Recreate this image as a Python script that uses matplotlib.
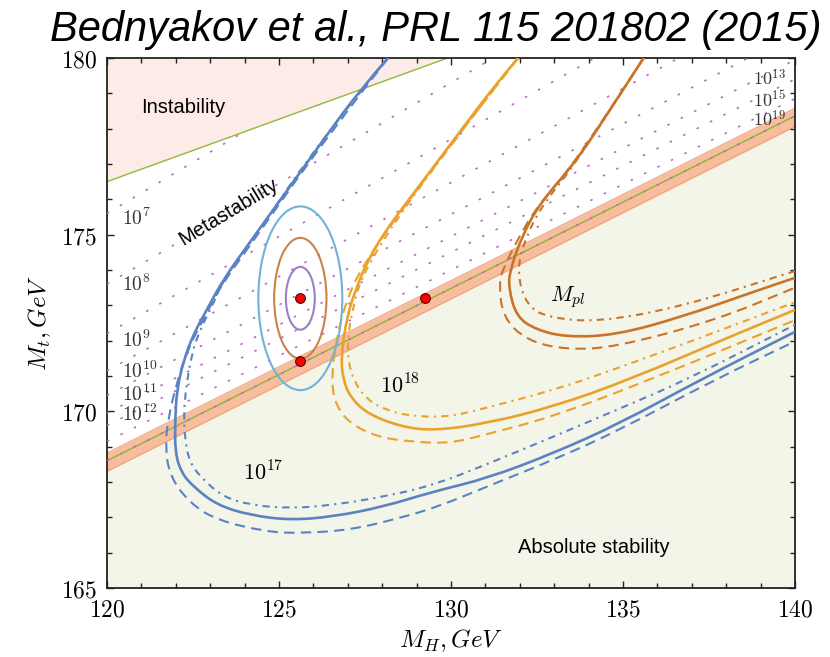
import matplotlib
matplotlib.use("Agg")
import matplotlib.pyplot as plt
import numpy as np
from matplotlib.patches import Ellipse, Polygon, PathPatch
from matplotlib.path import Path
from matplotlib.ticker import MultipleLocator, FuncFormatter

plt.rcParams["mathtext.fontset"] = "cm"

# instability boundary (lifetime = age of universe)
INST_MH = [120.0, 129.9]
INST_MT = [176.5, 180.0]

# absolute stability line and its uncertainty band
STAB_MH = [120.0, 140.0]
STAB_MT = [168.6, 178.36]
BAND_UP = 0.22
BAND_DN = 0.30

# dotted contours of the instability scale, Mt at MH=120 and MH=140
LAMBDA_EXP = [7, 8, 9, 10, 11, 12, 13, 15, 19]
LAMBDA_MT_120 = [175.6, 173.6, 172.2, 171.15, 170.45, 169.95, 169.6, 169.15, 168.6]
LAMBDA_MT_140 = [187.2, 185.0, 183.2, 181.8, 180.7, 179.95, 179.4, 178.85, 178.36]
LEFT_LABELS = {7: 175.47, 8: 173.58, 9: 172.0, 10: 171.14, 11: 170.47, 12: 169.9}
RIGHT_LABELS = {13: 179.4, 15: 178.8, 19: 178.25}

# blue curves (10^17)
blue_solid_mh = [128.17, 127.35, 126.3, 125.2, 124.2, 123.37, 122.9, 122.52, 122.23,
                 122.03, 121.98, 121.98, 122.17, 122.51, 123.19, 124.16, 125.32,
                 126.58, 128.03, 129.49, 131.04, 132.97, 134.91, 137.24, 140.0]
blue_solid_mt = [180.0, 179.09, 177.7, 176.2, 174.85, 173.72, 172.87, 172.2, 171.45,
                 170.6, 169.75, 168.82, 168.25, 167.87, 167.35, 167.06, 166.92,
                 167.02, 167.3, 167.73, 168.1, 168.81, 169.66, 170.89, 172.25]
blue_dash_mh = [128.17, 126.3, 124.2, 123.34, 122.9, 122.33, 122.0, 121.78, 121.69,
                121.83, 122.41, 123.19, 124.64, 125.61, 127.06, 128.52, 129.68,
                131.04, 132.97, 134.9, 137.65, 140.0]
blue_dash_mt = [180.0, 177.65, 174.75, 173.6, 172.78, 171.74, 170.7, 169.8, 169.0,
                168.15, 167.4, 166.92, 166.59, 166.55, 166.64, 166.98, 167.32,
                167.87, 168.62, 169.47, 170.89, 171.98]
blue_dd_mh = [128.17, 126.3, 124.3, 123.4, 123.14, 122.7, 122.47, 122.3, 122.23,
              122.27, 122.41, 122.8, 123.38, 124.16, 125.32, 126.58, 128.03, 129.49,
              131.04, 132.97, 134.91, 136.85, 140.0]
blue_dd_mt = [180.0, 177.8, 174.95, 173.75, 173.15, 172.3, 171.65, 170.7, 169.9,
              169.19, 168.53, 168.06, 167.58, 167.35, 167.25, 167.35, 167.58, 167.91,
              168.5, 169.28, 170.08, 170.89, 172.45]

# orange curves (10^18)
orange_solid_mh = [131.95, 131.34, 130.4, 129.48, 128.7, 128.02, 127.55, 127.27, 126.97,
                   126.8, 126.87, 127.06, 127.55, 128.52, 129.49, 131.04, 132.97,
                   135.2, 138.2, 140.0]
orange_solid_mt = [180.0, 179.3, 178.1, 176.9, 175.9, 175.0, 174.2, 173.55, 172.68,
                   171.5, 170.89, 170.42, 169.94, 169.57, 169.45, 169.66, 170.13,
                   170.9, 172.15, 172.87]
orange_dash_mh = [131.95, 129.4, 127.45, 126.9, 126.6, 126.53, 126.68, 127.06, 127.84,
                  128.81, 129.97, 131.04, 132.97, 135.78, 140.0]
orange_dash_mt = [180.0, 176.8, 174.19, 173.0, 171.7, 170.7, 170.13, 169.66, 169.28,
                  169.14, 169.09, 169.35, 169.85, 170.89, 172.58]
orange_dd_mh = [131.95, 129.5, 127.5, 127.1, 126.97, 127.12, 127.55, 128.23, 129.0,
                129.97, 131.04, 132.97, 134.5, 136.75, 140.0]
orange_dd_mt = [180.0, 176.95, 174.1, 172.8, 171.74, 170.95, 170.32, 169.99, 169.85,
                169.85, 170.1, 170.6, 171.1, 171.9, 173.09]

# dark orange curves (Planck scale)
pl_solid_mh = [135.6, 134.8, 133.66, 132.59, 132.05, 131.72, 131.67, 131.9, 132.5,
               133.37, 134.8, 136.7, 138.7, 140.0]
pl_solid_mt = [180.0, 178.8, 177.1, 175.9, 174.93, 174.0, 173.52, 172.67, 172.3,
               172.1, 172.16, 172.67, 173.35, 173.78]
pl_dash_mh = [135.6, 133.6, 132.5, 131.9, 131.5, 131.4, 131.5, 132.2, 133.37, 134.8,
              137.7, 140.0]
pl_dash_mt = [180.0, 177.0, 175.8, 174.8, 174.0, 173.63, 172.67, 172.0, 171.74,
              171.82, 172.58, 173.5]
pl_dd_mh = [135.6, 133.7, 132.7, 132.2, 131.9, 132.2, 132.9, 134.3, 136.7, 140.0]
pl_dd_mt = [180.0, 177.1, 175.9, 175.0, 174.0, 172.96, 172.64, 172.53, 172.96, 173.97]

# confidence ellipses around the central point
ELL_CENTER = (125.62, 173.2)
ELL_HALF_W = [1.22, 0.76, 0.42]
ELL_HALF_H = [2.6, 1.71, 0.89]
ELL_COLORS = ["#6fb3da", "#c98346", "#9a80c6"]

# red points
POINTS_MH = [125.62, 125.62, 129.25]
POINTS_MT = [173.2, 171.43, 173.2]

BLUE = "#5b82c3"
ORANGE = "#e9a22c"
DORANGE = "#c8742a"
DASH = (0, (5, 3))
DASHDOT = (0, (3.5, 2.5, 1, 2.5))


def smooth_path(mh, mt):
    # quadratic bezier through midpoints, read points act as control points
    pts = np.column_stack([mh, mt])
    verts = [pts[0]]
    codes = [Path.MOVETO]
    for i in range(1, len(pts) - 1):
        verts += [pts[i], (pts[i] + pts[i + 1]) / 2]
        codes += [Path.CURVE3, Path.CURVE3]
    verts.append(pts[-1])
    codes.append(Path.LINETO)
    return Path(verts, codes)


fig = plt.figure(figsize=(8.3, 6.57), dpi=100)
ax = fig.add_axes([107 / 830, 69 / 657, 688 / 830, 530 / 657])
ax.set_xlim(120, 140)
ax.set_ylim(165, 180)

# regions
xs = np.array(STAB_MH)
green = np.array(STAB_MT)
ax.fill_between(xs, 165, green - BAND_DN, color="#f3f5e8", lw=0, zorder=0)
ax.fill_between(xs, green - BAND_DN, green + BAND_UP, color="#f7bd9c", lw=0, zorder=1)
ax.plot(xs, green - BAND_DN, color="#eea27c", lw=0.8, zorder=1)
ax.plot(xs, green + BAND_UP, color="#eea27c", lw=0.8, zorder=1)
ax.plot(xs, green, color="#8db23e", lw=1.0, zorder=2)

inst = Polygon([(INST_MH[0], INST_MT[0]), (INST_MH[1], INST_MT[1]), (120, 180)],
               closed=True, facecolor="#fcebe6", edgecolor="none", zorder=0)
ax.add_patch(inst)
ax.plot(INST_MH, INST_MT, color="#94b540", lw=1.0, zorder=2)

# dotted Lambda contours, kept out of the instability region
clip = Polygon([(INST_MH[0], INST_MT[0]), (INST_MH[1], INST_MT[1]), (140, 180),
                (140, 160), (120, 160)], closed=True, transform=ax.transData)
for lo, hi in zip(LAMBDA_MT_120, LAMBDA_MT_140):
    ln, = ax.plot([120, 140], [lo, hi], color="#b86cc4", lw=1.2,
                  linestyle=(0, (1.5, 7.5)), zorder=3)
    ln.set_clip_path(clip)

for k, y in LEFT_LABELS.items():
    ax.text(120.45, y, r"$10^{%d}$" % k, fontsize=14, va="center", ha="left",
            color="#333333", zorder=6)
for k, y in RIGHT_LABELS.items():
    ax.text(139.75, y, r"$10^{%d}$" % k, fontsize=13, va="center", ha="right",
            color="#333333", zorder=6)

# curves
for mh, mt, col in [(blue_solid_mh, blue_solid_mt, BLUE),
                    (orange_solid_mh, orange_solid_mt, ORANGE),
                    (pl_solid_mh, pl_solid_mt, DORANGE)]:
    ax.add_patch(PathPatch(smooth_path(mh, mt), facecolor="none", edgecolor=col,
                           lw=1.9, zorder=4))
for mh, mt, col in [(blue_dash_mh, blue_dash_mt, BLUE),
                    (orange_dash_mh, orange_dash_mt, ORANGE),
                    (pl_dash_mh, pl_dash_mt, DORANGE)]:
    ax.add_patch(PathPatch(smooth_path(mh, mt), facecolor="none", edgecolor=col,
                           lw=1.5, linestyle=DASH, zorder=4))
for mh, mt, col in [(blue_dd_mh, blue_dd_mt, BLUE),
                    (orange_dd_mh, orange_dd_mt, ORANGE),
                    (pl_dd_mh, pl_dd_mt, DORANGE)]:
    ax.add_patch(PathPatch(smooth_path(mh, mt), facecolor="none", edgecolor=col,
                           lw=1.5, linestyle=DASHDOT, zorder=4))

for w, h, c in zip(ELL_HALF_W, ELL_HALF_H, ELL_COLORS):
    ax.add_patch(Ellipse(ELL_CENTER, 2 * w, 2 * h, facecolor="none", edgecolor=c,
                         lw=1.5, zorder=5))

ax.plot(POINTS_MH, POINTS_MT, "o", color="#ff0000", markersize=7,
        markeredgecolor="#5a0000", markeredgewidth=0.8, zorder=7)

# annotations
ax.text(124.53, 168.28, r"$10^{17}$", fontsize=16, ha="center", va="center", zorder=6)
ax.text(128.52, 170.72, r"$10^{18}$", fontsize=16, ha="center", va="center", zorder=6)
ax.text(133.4, 173.23, r"$M_{pl}$", fontsize=16, ha="center", va="center", zorder=6)

sans = "Liberation Sans"
ax.text(121.0, 178.6, "Instability", family=sans, fontsize=14.5, ha="left",
        va="center", zorder=6)
ax.text(123.54, 175.65, "Metastability", family=sans, fontsize=14.5, ha="center",
        va="center", rotation=31, rotation_mode="anchor", zorder=6)
ax.text(131.95, 166.16, "Absolute stability", family=sans, fontsize=14.5, ha="left",
        va="center", zorder=6)

# axes styling
ax.xaxis.set_major_locator(MultipleLocator(5))
ax.xaxis.set_minor_locator(MultipleLocator(1))
ax.yaxis.set_major_locator(MultipleLocator(5))
ax.yaxis.set_minor_locator(MultipleLocator(1))
fmt = FuncFormatter(lambda v, p: r"$%d$" % round(v))
ax.xaxis.set_major_formatter(fmt)
ax.yaxis.set_major_formatter(fmt)
ax.tick_params(which="both", direction="in", top=True, right=True, labelsize=17,
               width=1.0, color="#222222")
ax.tick_params(which="major", length=5, pad=7)
ax.tick_params(which="minor", length=3.5)
for s in ax.spines.values():
    s.set_linewidth(1.3)
    s.set_color("#222222")

ax.set_xlabel(r"$M_H, GeV$", fontsize=18, labelpad=4)
ax.set_ylabel(r"$M_t, GeV$", fontsize=18, labelpad=6)

fig.text(50 / 830, 1 - 41 / 657, "Bednyakov et al., PRL 115 201802 (2015)",
         family=sans, style="italic", fontsize=30, ha="left", va="baseline")

fig.savefig("out.png", dpi=100)
